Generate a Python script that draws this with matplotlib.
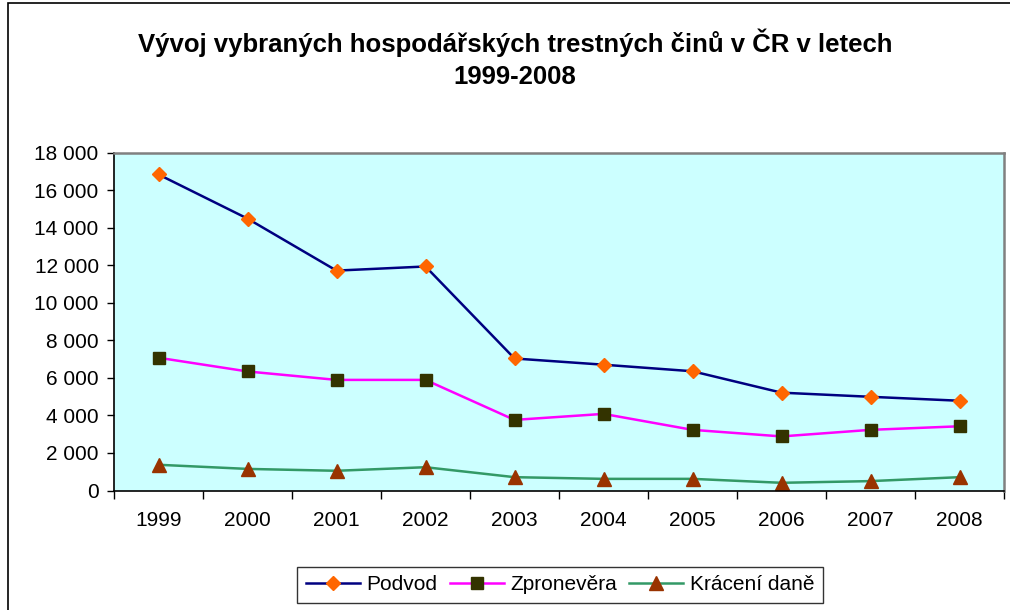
import matplotlib.pyplot as plt
from matplotlib.patches import Rectangle
from matplotlib.ticker import FuncFormatter

years = ['1999', '2000', '2001', '2002', '2003', '2004', '2005', '2006', '2007', '2008']
podvod = [16830, 14480, 11710, 11930, 7030, 6700, 6350, 5210, 4990, 4780]
zpronevera = [7070, 6340, 5890, 5890, 3760, 4080, 3230, 2880, 3230, 3420]
kraceni_dane = [1370, 1150, 1050, 1240, 710, 620, 620, 410, 500, 710]

plt.rcParams['font.family'] = ['Liberation Sans', 'DejaVu Sans']

fig = plt.figure(figsize=(10.1, 6.1), dpi=100)
ax = fig.add_axes([114 / 1010, 1 - 490.5 / 610, 890 / 1010, 338 / 610])
ax.set_facecolor('#CCFFFF')

# outer chart border
fig.add_artist(Rectangle((8 / 1010, -0.01), 1.2, 1 - 3 / 610 + 0.01,
                         transform=fig.transFigure, fill=False,
                         edgecolor='black', linewidth=1.2))

x = range(len(years))
ax.plot(x, podvod, color='#000080', linewidth=1.8, marker='D',
        markersize=7.5, markerfacecolor='#FF6600', markeredgecolor='#FF6600',
        label='Podvod')
ax.plot(x, zpronevera, color='#FF00FF', linewidth=1.8, marker='s',
        markersize=8.5, markerfacecolor='#333300', markeredgecolor='#333300',
        label='Zpronevěra')
ax.plot(x, kraceni_dane, color='#339966', linewidth=1.8, marker='^',
        markersize=10, markerfacecolor='#993300', markeredgecolor='#993300',
        label='Krácení daně')

ax.set_xlim(-0.5, len(years) - 0.5)
ax.set_ylim(0, 18000)
ax.set_yticks(range(0, 18001, 2000))
ax.yaxis.set_major_formatter(FuncFormatter(lambda v, p: f'{int(v):,}'.replace(',', ' ')))

# category labels centred, ticks between categories
ax.set_xticks([i + 0.5 for i in range(-1, len(years))])
ax.set_xticklabels([])
ax.set_xticks(list(x), minor=True)
ax.set_xticklabels(years, minor=True)
ax.tick_params(axis='x', which='major', direction='out', length=6, width=1)
ax.tick_params(axis='x', which='minor', length=0, pad=15, labelsize=15)
ax.tick_params(axis='y', direction='out', length=5, width=1, pad=6, labelsize=15)

for side in ['top', 'right']:
    ax.spines[side].set_color('#808080')
    ax.spines[side].set_linewidth(1.8)
for side in ['left', 'bottom']:
    ax.spines[side].set_color('black')
    ax.spines[side].set_linewidth(1.2)

fig.text(0.51, 1 - 58.5 / 610, 'Vývoj vybraných hospodářských trestných činů v ČR v letech\n1999-2008',
         ha='center', va='center', fontsize=18.5, fontweight='bold', linespacing=1.42)

leg = fig.legend(loc='center', bbox_to_anchor=(560 / 1010, 1 - 585 / 610), ncol=3,
                 frameon=True, fancybox=False, edgecolor='black', fontsize=15,
                 handlelength=2.6, handletextpad=0.3, columnspacing=0.6,
                 borderpad=0.4)
leg.get_frame().set_linewidth(1.0)

fig.savefig('out.png', dpi=100)
